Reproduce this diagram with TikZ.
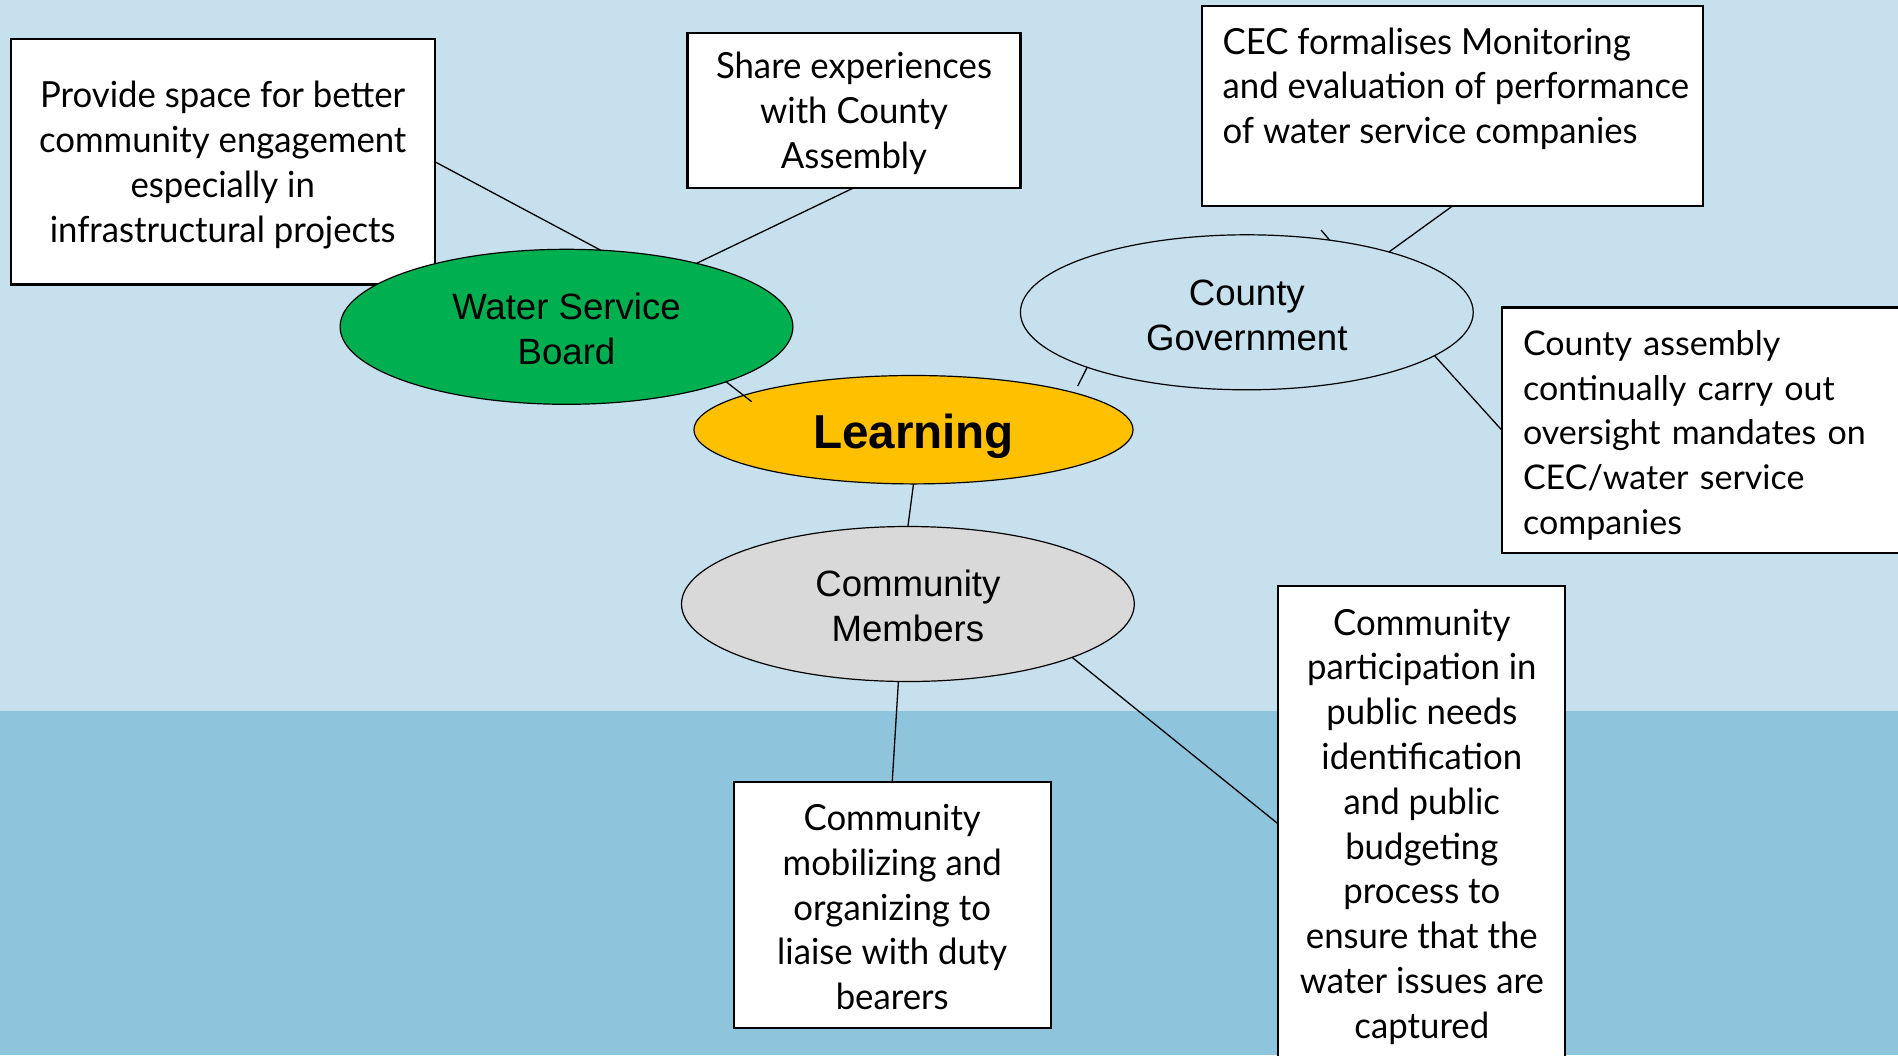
\documentclass[tikz,border=0pt]{standalone}
\usepackage{fontspec}
\setmainfont{Lato}
\newfontfamily\arialf{Liberation Sans}
\newfontfamily\gillf{Lato}
\newfontfamily\gillc[FakeStretch=0.965]{Lato}
\usetikzlibrary{shapes.geometric,calc}
\definecolor{bgtop}{RGB}{198,224,237}
\definecolor{bgbot}{RGB}{142,196,220}
\definecolor{wsbgreen}{RGB}{0,176,80}
\definecolor{learnyel}{RGB}{255,192,0}
\definecolor{cmgray}{RGB}{217,217,217}
\newcommand\topstrut[1]{\rule{0pt}{#1}}
\begin{document}
\begin{tikzpicture}[x=0.5pt,y=-0.5pt,
  ell/.style={ellipse,draw=black,line width=0.6pt,inner sep=0pt,outer sep=0pt,
    minimum width=226.4pt,minimum height=77.5pt,
    font=\arialf\fontsize{18.3}{22.4}\selectfont,align=center},
  tbox/.style={rectangle,draw=black,line width=1.1pt,fill=white,inner sep=0pt,outer sep=0pt,align=center},
  ctext/.style={font=\gillc\fontsize{18}{22.4}\selectfont},
  ntext/.style={font=\gillf\fontsize{17}{22.4}\selectfont},
  conn/.style={draw=black,line width=0.65pt}]
\useasboundingbox (0,0) rectangle (1898,1055);
\clip (0,0) rectangle (1898,1055);
\fill[bgtop] (0,0) rectangle (1898,710.6);
\fill[bgbot] (0,710.6) rectangle (1898,1055);

% boxes
\node[tbox,ctext,minimum width=211.9pt,minimum height=122.9pt] (b1) at (222.7,161.6)
  {\topstrut{16.5pt}Provide space for better\\community engagement\\especially in\\infrastructural projects};
\node[tbox,ctext,minimum width=166.5pt,minimum height=77.5pt] (b2) at (854,110.2)
  {\topstrut{16.5pt}Share experiences\\with County\\Assembly};
\node[tbox,ctext,minimum width=250.5pt,minimum height=100pt] (b3) at (1452.5,106)
  {\hspace*{10.1pt}\parbox[c][78.4pt][t]{240pt}{\raggedright CEC formalises Monitoring\\and evaluation of performance\\of water service companies}};
\node[tbox,ntext,minimum width=204pt,minimum height=122.9pt,text width=183pt,inner xsep=10.5pt,align=left] (b4) at (1706,430.4)
  {\topstrut{17.4pt}County assembly\\continually carry out\\oversight mandates on\\CEC/water service\\companies};
\node[tbox,ctext,minimum width=158.5pt,minimum height=122.9pt] (b5) at (892.2,904.9)
  {\topstrut{15.3pt}Community\\mobilizing and\\organizing to\\liaise with duty\\bearers};
\node[tbox,ctext,minimum width=143.5pt,minimum height=238pt] (b6) at (1421.8,824)
  {\topstrut{15.7pt}Community\\participation in\\public needs\\identification\\and public\\budgeting\\process to\\ensure that the\\water issues are\\captured};

% ellipses
\node[ell,fill=wsbgreen] (wsb) at (566.5,326.8) {\topstrut{15.5pt}Water Service\\Board};
\node[ell,fill=learnyel,minimum width=219.5pt,minimum height=54.2pt,text height=19pt,text depth=0pt,
  font=\arialf\bfseries\fontsize{23.8}{28}\selectfont] (learn) at (913.5,429.7) {Learning};
\node[ell] (cg) at (1246.8,312.3) {\topstrut{15.5pt}County\\Government};
\node[ell,fill=cmgray] (cm) at (907.9,604) {\topstrut{15.5pt}Community\\Members};

% connectors
\draw[conn] (b1.east) -- (wsb.66);
\draw[conn] (b2.south) -- (wsb.26);
\draw[conn] (wsb.-19) -- ([shift={(-161.8,-28)}]learn.center);
\draw[conn] (cg.-161) -- ([shift={(164.2,-43.7)}]learn.center);
\draw[conn] (b3.south) -- (cg.23);
\draw[conn] ([shift={(74.2,-82.3)}]cg.center) -- (cg.41);
\draw[conn] (cg.-13) -- (b4.west);
\draw[conn] (learn.south) -- (cm.north);
\draw[conn] (cm.-97) -- (b5.north);
\draw[conn] (cm.-18) -- (b6.west);
\end{tikzpicture}
\end{document}
